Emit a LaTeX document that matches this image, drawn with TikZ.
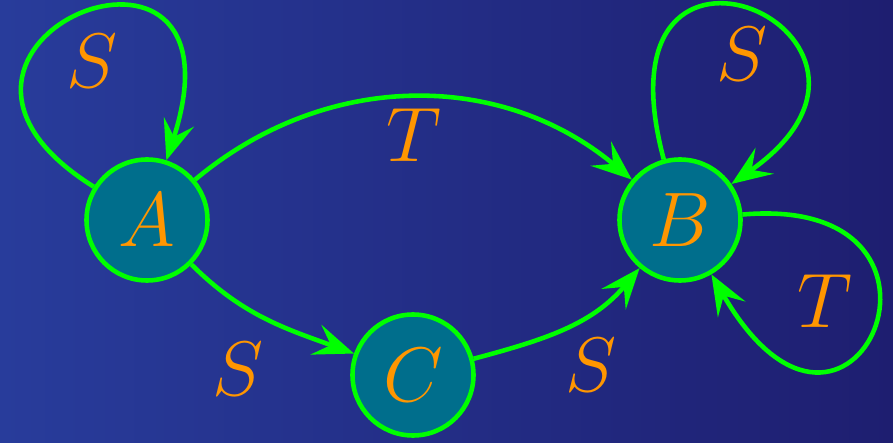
\RequirePackage{fix-cm}
\documentclass[tikz,border=0pt]{standalone}
\usepackage{xcolor}
\usepackage{tikz}
\usetikzlibrary{positioning,arrows.meta}
\definecolor{bgleft}{RGB}{40,60,155}
\definecolor{bgright}{RGB}{30,30,112}
\definecolor{statefill}{RGB}{0,110,140}
\definecolor{transgreen}{RGB}{0,255,0}
\definecolor{lblorange}{RGB}{255,150,0}
\tikzset{
    state/.style={circle, draw=transgreen, fill=statefill, line width=2.6pt,
        minimum size=2.42cm, inner sep=0pt, text=lblorange,
        font=\fontsize{44}{52}\selectfont},
    trans/.style={draw=transgreen, line width=2.6pt,
        -{Stealth[length=23pt, width=18pt, inset=9pt]}},
    lbl/.style={text=lblorange, inner sep=5pt, font=\fontsize{44}{52}\selectfont}
}

\begin{document}
\begin{tikzpicture}
    \useasboundingbox (0,0) rectangle (17.86,8.86);
    \shade[left color=bgleft, right color=bgright] (0,0) rectangle (17.86,8.86);

    \node[state] (A) at (2.94,4.46) {$A$};
    \node[state] (B) at (13.6,4.46) {$B$};
    \node[state] (C) at (8.26,1.36) {$C$};

    \draw[trans] (A) to[bend left=40] node[lbl, below] {$T$} (B);
    \draw[trans] (A) to[out=-45, in=160]
        node[lbl, below left, xshift=0.16cm, yshift=-0.26cm] {$S$} (C);
    \draw[trans] (C) to[out=15, in=-130]
        node[lbl, below right, xshift=-0.22cm] {$S$} (B);
    % self loops
    \draw[trans] (A) to[out=148, in=72, out distance=5.4cm, in distance=5.8cm]
        node[lbl, below, xshift=0.28cm, yshift=-0.14cm] {$S$} (A);
    \draw[trans] (B) to[out=105, in=35, out distance=5.8cm, in distance=5.2cm]
        node[lbl, below, xshift=-0.14cm, yshift=-0.12cm] {$S$} (B);
    \draw[trans] (B) to[out=5, in=-60, out distance=5.0cm, in distance=5.6cm]
        node[lbl, left, xshift=-0.18cm, yshift=0.52cm] {$T$} (B);
\end{tikzpicture}
\end{document}
